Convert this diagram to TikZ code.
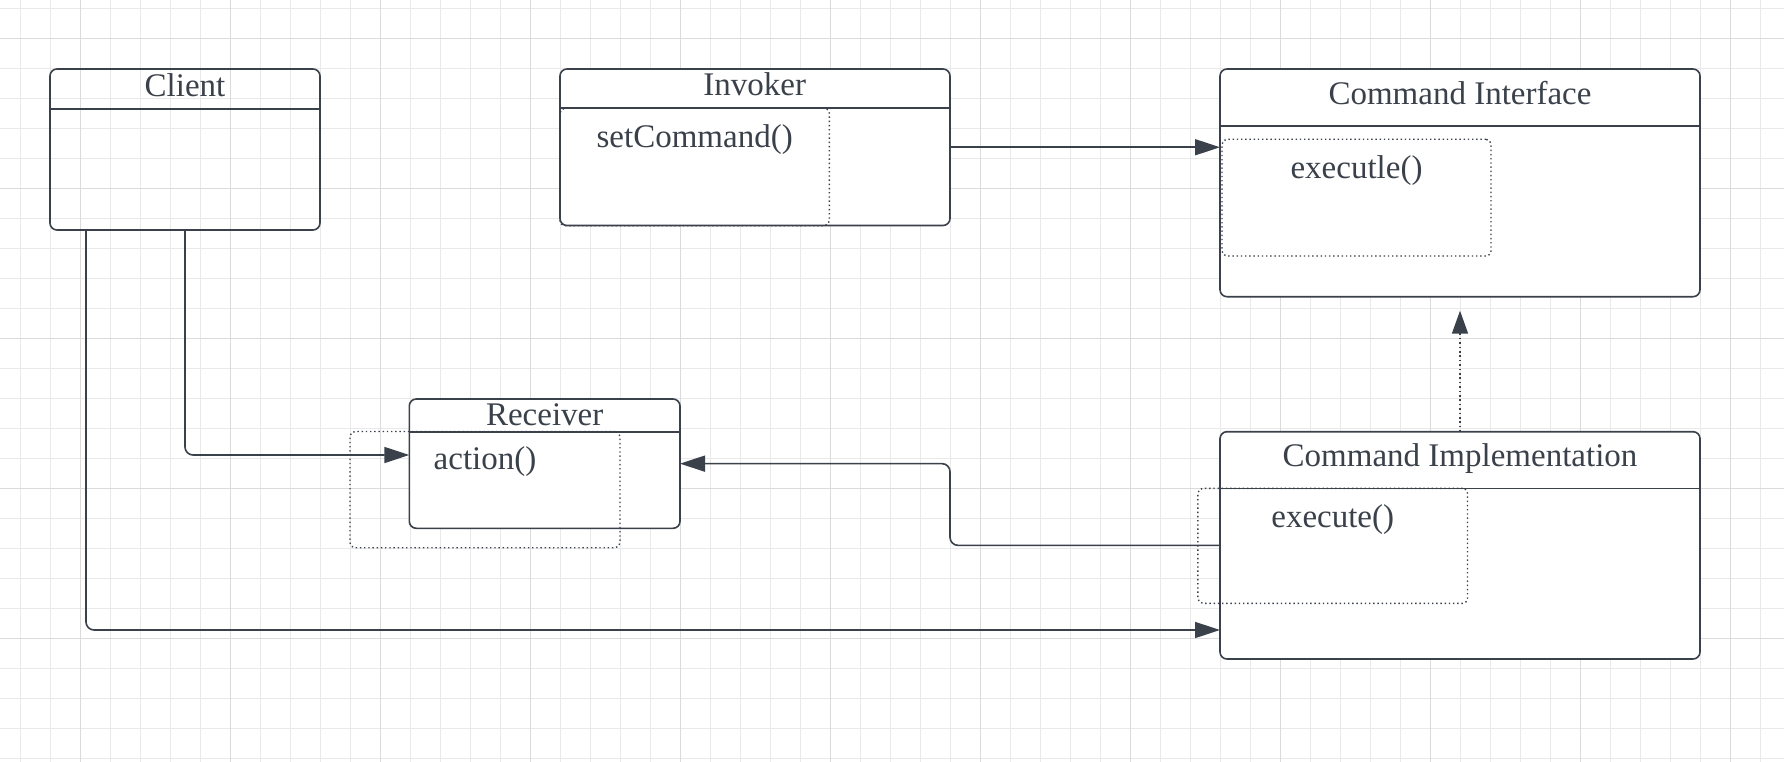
\documentclass[tikz,border=0pt]{standalone}
\usepackage{fontspec}
\setmainfont{Liberation Serif}
\usetikzlibrary{arrows.meta,calc}
\definecolor{linec}{RGB}{58,65,74}
\definecolor{gridminor}{RGB}{233,233,233}
\definecolor{gridmajor}{RGB}{219,219,219}
\begin{document}
\begin{tikzpicture}[x=1pt,y=-1pt,
  classbox/.style={draw=linec, line width=1.6pt, rounded corners=7pt, rectangle, inner sep=0pt, outer sep=0pt, anchor=north west, fill=white},
  partbox/.style={draw=linec, line width=1.4pt, dash pattern=on 1.4pt off 2.8pt, rounded corners=5pt, rectangle, inner sep=0pt, outer sep=0pt, anchor=north west},
  sepline/.style={draw=linec, line width=1.6pt},
  conn/.style={draw=linec, line width=1.6pt, rounded corners=8pt, -{Triangle[length=25pt,width=16pt]}},
  dconn/.style={draw=linec, line width=1.6pt, dash pattern=on 1.6pt off 2.8pt, -{Triangle[length=23pt,width=16pt]}},
  txt/.style={text=linec, font=\fontsize{33}{40}\selectfont, inner sep=0pt, anchor=base}
]
\useasboundingbox (0,0) rectangle (1784,762);
\fill[white] (0,0) rectangle (1784,762);
% grid
\foreach \i in {0,...,58} \draw[gridminor, line width=1pt] ({20.7+30*\i},0) -- ({20.7+30*\i},762);
\foreach \i in {0,...,25} \draw[gridminor, line width=1pt] (0,{8.3+30*\i}) -- (1784,{8.3+30*\i});
\foreach \i in {0,...,11} \draw[gridmajor, line width=1.2pt] ({80.7+150*\i},0) -- ({80.7+150*\i},762);
\foreach \i in {0,...,4} \draw[gridmajor, line width=1.2pt] (0,{38.3+150*\i}) -- (1784,{38.3+150*\i});

% class boxes
\node[classbox, fill=none, minimum width=270pt, minimum height=161pt] (client) at (50,69) {};
\node[classbox, minimum width=390pt, minimum height=156.5pt] (invoker) at (560,69) {};
\node[classbox, minimum width=480pt, minimum height=227.7pt] (cmdif) at (1220,69) {};
\node[classbox, minimum width=270.7pt, minimum height=129.3pt] (receiver) at (409.3,399) {};
\node[classbox, minimum width=480pt, minimum height=227.3pt] (cimpl) at (1220,431.7) {};

% header separators
\draw[sepline] ($(client.north west)+(0,40)$) -- ($(client.north east)+(0,40)$);
\draw[sepline] ($(invoker.north west)+(0,39.3)$) -- ($(invoker.north east)+(0,39.3)$);
\draw[sepline] ($(cmdif.north west)+(0,57)$) -- ($(cmdif.north east)+(0,57)$);
\draw[sepline] ($(receiver.north west)+(0,32.7)$) -- ($(receiver.north east)+(0,32.7)$);
\draw[sepline] ($(cimpl.north west)+(0,56.6)$) -- ($(cimpl.north east)+(0,56.6)$);

% dotted compartments
\node[partbox, minimum width=269.3pt, minimum height=117.4pt] (invpart) at (560,108.3) {};
\node[partbox, minimum width=269pt, minimum height=116.7pt] (ifpart) at (1222,139.3) {};
\node[partbox, minimum width=270pt, minimum height=116.2pt] (recpart) at (350,431.5) {};
\node[partbox, minimum width=269.6pt, minimum height=115pt] (impart) at (1197.9,488.3) {};

% connectors
\draw[conn] ([xshift=36pt]client.south west) |- ([yshift=29pt]cimpl.south west);
\draw[conn] (client.south) |- ([yshift=-56pt]receiver.north west);
\draw[conn] (invoker.east) -- (invoker.east -| cmdif.west);
\draw[conn] (cimpl.west) -- (cimpl.west -| invoker.east) |- (receiver.east);
\draw[dconn] (cimpl.north) -- ([yshift=-14pt]cmdif.south);

% texts
\node[txt] (tclient) at (185,96.7) {Client};
\node[txt] (tinvoker) at (754.7,95.7) {Invoker};
\node[txt] (tcmdif) at (1460,104.3) {Command Interface};
\node[txt] (treceiver) at (544.7,425.7) {Receiver};
\node[txt] (tcimpl) at (1460,466.7) {Command Implementation};
\node[txt] (tset) at (694.7,147.3) {setCommand()};
\node[txt] (texl) at (1356.5,178.3) {executle()};
\node[txt] (taction) at (485,469) {action()};
\node[txt] (texec) at (1332.7,527.3) {execute()};
\end{tikzpicture}
\end{document}
